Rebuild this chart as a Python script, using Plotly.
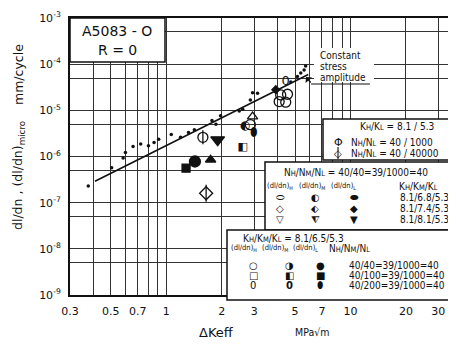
import math
import plotly.graph_objects as go

# ---------------- data ----------------
x_ticks = [0.3, 0.5, 0.7, 1, 2, 3, 5, 7, 10, 20, 30]
x_tick_labels = ["0.3", "0.5", "0.7", "1", "2", "3", "5", "7", "10", "20", "30"]
x_minor_grid = [0.4, 0.6, 0.8, 0.9, 4, 6, 8, 9]
y_ticks = [1e-9, 1e-8, 1e-7, 1e-6, 1e-5, 1e-4, 1e-3]
y_tick_labels = ["10<sup>-9</sup>", "10<sup>-8</sup>", "10<sup>-7</sup>", "10<sup>-6</sup>",
                 "10<sup>-5</sup>", "10<sup>-4</sup>", "10<sup>-3</sup>"]
y_minor_grid = [5e-9, 5e-8, 5e-7, 5e-6, 5e-5, 5e-4]

# constant stress amplitude (small dots)
cs_dk = [0.377, 0.505, 0.583, 0.60, 0.66, 0.726, 0.80, 0.858, 0.909, 1.064, 1.195, 1.32, 1.42,
         1.77, 1.86, 1.97, 2.49, 2.6, 2.86, 2.94, 3.13, 4.74, 5.15, 5.37, 5.6, 5.71]
cs_rate = [2.3e-7, 5.7e-7, 9.3e-7, 1.22e-6, 1.64e-6, 1.87e-6, 1.7e-6, 2.0e-6, 2.37e-6, 3.0e-6,
           2.6e-6, 3.3e-6, 3.8e-6, 6.0e-6, 5.0e-6, 7.6e-6, 9.7e-6, 1.06e-5, 1.68e-5, 2.4e-5,
           2.34e-5, 4.1e-5, 5.4e-5, 6.4e-5, 7.5e-5, 9.1e-5]
# fitted line
fit_dk = [0.41, 5.9]
fit_rate = [2.9e-7, 6.0e-5]

# two-step / three-step loading data
open_circle_dk = [4.1, 4.18, 4.45, 4.55, 2.86]
open_circle_rate = [1.55e-5, 2.16e-5, 1.5e-5, 2.23e-5, 4.9e-6]
half_circle_dk = [2.68]
half_circle_rate = [4.6e-6]
open_ellipse_dk = [4.45]
open_ellipse_rate = [4.2e-5]
filled_ellipse_dk = [3.0]
filled_ellipse_rate = [3.2e-6]
open_tri_dk = [2.94]
open_tri_rate = [7.3e-6]
half_square_dk = [2.6]
half_square_rate = [1.55e-6]
circ_line_dk = [1.58]
circ_line_rate = [2.6e-6]
diam_line_dk = [1.645]
diam_line_rate = [1.6e-7]
filled_square_dk = [1.28]
filled_square_rate = [5.6e-7]
filled_circle_dk = [1.43]
filled_circle_rate = [7.8e-7]
filled_tri_up_dk = [1.74]
filled_tri_up_rate = [8.5e-7]
filled_tri_dn_dk = [1.9]
filled_tri_dn_rate = [2.3e-6]
filled_diam_dk = [3.93]
filled_diam_rate = [2.8e-5]

FONT = "DejaVu Sans"
CFONT = "DejaVu Sans Condensed, DejaVu Sans"
INK = "#111111"

fig = go.Figure()

fig.add_trace(go.Scatter(x=fit_dk, y=fit_rate, mode="lines",
                         line=dict(color=INK, width=1.6), showlegend=False))
fig.add_trace(go.Scatter(x=cs_dk, y=cs_rate, mode="markers",
                         marker=dict(color=INK, size=3.5), showlegend=False))


def mk(x, y, symbol, size, lw=1.3):
    fig.add_trace(go.Scatter(x=x, y=y, mode="markers", showlegend=False,
                             marker=dict(symbol=symbol, size=size, color=INK,
                                         line=dict(color=INK, width=lw))))


def tx(x, y, glyph, size, bold=False):
    t = f"<b>{glyph}</b>" if bold else glyph
    fig.add_trace(go.Scatter(x=x, y=y, mode="text", text=[t] * len(x), showlegend=False,
                             textfont=dict(size=size, color=INK, family=FONT),
                             textposition="middle center"))


mk(open_circle_dk, open_circle_rate, "circle-open", 10)
mk(open_tri_dk, open_tri_rate, "triangle-up-open", 9)
mk(circ_line_dk, circ_line_rate, "circle-open", 10)
mk(circ_line_dk, circ_line_rate, "line-ns-open", 10)
mk(diam_line_dk, diam_line_rate, "diamond-open", 10)
mk(diam_line_dk, diam_line_rate, "line-ns-open", 12)
mk(filled_square_dk, filled_square_rate, "square", 8)
mk(filled_circle_dk, filled_circle_rate, "circle", 11)
mk(filled_tri_up_dk, filled_tri_up_rate, "triangle-up", 9)
mk(filled_tri_dn_dk, filled_tri_dn_rate, "triangle-down", 12)
mk(filled_diam_dk, filled_diam_rate, "diamond", 6)
tx(half_circle_dk, half_circle_rate, "◐", 12)
tx(half_square_dk, half_square_rate, "◧", 11)
tx(open_ellipse_dk, open_ellipse_rate, "0", 13)
tx(filled_ellipse_dk, filled_ellipse_rate, "⬮", 12)

# ---------------- layout helpers (screen pixel -> paper) ----------------
OFF = 8                       # page body margin
L, R, T, B = 70, 456, 18, 295  # plot area in screen pixels
W, H = R - L, B - T
FIG_W, FIG_H = 456 - OFF, 348 - OFF


def P(xp):
    return (xp - L) / W


def Q(yp):
    return (B - yp) / H


def sc(s):
    return f"<span style='font-size:7.5px'>{s}</span>"


anns = []


def ann(text, xp, yp, size=10, anchor="center", family=CFONT, **kw):
    anns.append(dict(text=text, x=P(xp), y=Q(yp), xref="paper", yref="paper", showarrow=False,
                     xanchor=anchor, yanchor="middle",
                     font=dict(size=size, family=family, color=INK), **kw))


shapes = []


def box(x0, y0, x1, y1, border=True):
    shapes.append(dict(type="rect", xref="paper", yref="paper", x0=P(x0), x1=P(x1),
                       y0=Q(y1), y1=Q(y0), fillcolor="white",
                       line=dict(color=INK if border else "rgba(0,0,0,0)",
                                 width=1.5 if border else 0), layer="above"))


def seg(x0, y0, x1, y1, w=1.2):
    shapes.append(dict(type="line", xref="paper", yref="paper", x0=P(x0), x1=P(x1),
                       y0=Q(y0), y1=Q(y1), line=dict(color=INK, width=w), layer="above"))


# title box
box(L, T, 165, 62)
ann("A5083 - O", 117, 31, 14, family=FONT)
ann("R = 0", 117, 50, 14, family=FONT)

# box 1
box(323, 119, 470, 160)
ann(f"K{sc('H')}/K{sc('L')} = 8.1 / 5.3", 397, 126, 10)
ann("Φ", 338, 142, 11, family=FONT)
ann(f"N{sc('H')}/N{sc('L')} = 40 / 1000", 349, 142, 10, "left")
ann("◇", 338, 153, 10, family=FONT)
seg(338, 147, 338, 159, 1.1)
ann(f"N{sc('H')}/N{sc('L')} = 40 / 40000", 349, 153, 10, "left")

# box 2
box(265, 162, 470, 230)
ann(f"N{sc('H')}/N{sc('M')}/N{sc('L')} = 40/40=39/1000=40", 282, 172, 10, "left")
ann("(dl/dn)<sub>H</sub>", 280, 186, 7.5)
ann("(dl/dn)<sub>M</sub>", 312, 186, 7.5)
ann("(dl/dn)<sub>L</sub>", 343, 186, 7.5)
ann(f"K{sc('H')}/K{sc('M')}/K{sc('L')}", 397, 186, 10, "left")
rows2 = [("⬭", "◐", "⬬", "8.1/6.8/5.3"),
         ("◇", "⬖", "◆", "8.1/7.4/5.3"),
         ("▽", "⧨", "▼", "8.1/8.1/5.3")]
for i, (a, b, c, t) in enumerate(rows2):
    yy = [197, 208, 220][i]
    ann(a, 280, yy, 10, family=FONT)
    ann(b, 315, yy, 10, family=FONT)
    ann(c, 354, yy, 10, family=FONT)
    ann(t, 398, yy, 10, "left")

# box 3
box(227, 230, 470, 300)
ann(f"K{sc('H')}/K{sc('M')}/K{sc('L')} = 8.1/6.5/5.3", 241, 238, 10, "left")
ann("(dl/dn)<sub>H</sub>", 244, 248, 7.5)
ann("(dl/dn)<sub>M</sub>", 275, 248, 7.5)
ann("(dl/dn)<sub>L</sub>", 305, 248, 7.5)
ann(f"N{sc('H')}/N{sc('M')}/N{sc('L')}", 349, 248, 10)
rows3 = [("○", "◑", "●", "40/40=39/1000=40"),
         ("□", "◧", "■", "40/100=39/1000=40"),
         ("0", "<b>0</b>", "⬮", "40/200=39/1000=40")]
for i, (a, b, c, t) in enumerate(rows3):
    yy = [265, 275, 285][i]
    ann(a, 253, yy, 10, family=FONT)
    ann(b, 289, yy, 10, family=FONT)
    ann(c, 320, yy, 10, family=FONT)
    ann(t, 347, yy, 10, "left")

# constant stress amplitude label (white backdrop hides the grid behind it)
box(314, 48, 374, 82, border=False)
for line_txt, yy in (("Constant", 55), ("stress", 66), ("amplitude", 77)):
    ann(line_txt, 318, yy, 10, "left")
seg(311, 84, 370, 84)
anns.append(dict(x=P(306), y=Q(77), xref="paper", yref="paper", ax=6, ay=7,
                 showarrow=True, arrowhead=1, arrowsize=1.2, arrowwidth=1.2,
                 arrowcolor=INK, text=""))

# axis titles
ann("ΔKeff", 216, 332, 13, family=FONT)
ann("MPa√m", 312, 332, 10.5)
ann("dl/dn , (dl/dn)<sub>micro</sub>", 18, 176, 12.5, family=FONT, textangle=-90)
ann("mm/cycle", 18, 75, 12.5, family=FONT, textangle=-90)

fig.update_layout(
    width=FIG_W, height=FIG_H,
    margin=dict(l=L - OFF, r=FIG_W - (R - OFF), t=T - OFF, b=FIG_H - (B - OFF), pad=0),
    paper_bgcolor="white", plot_bgcolor="white",
    shapes=shapes, annotations=anns,
    xaxis=dict(type="log", range=[math.log10(0.3), math.log10(37.4)],
               tickvals=x_ticks, ticktext=x_tick_labels,
               showgrid=True, gridcolor="#333", gridwidth=1.1,
               minor=dict(tickvals=x_minor_grid, showgrid=True, gridcolor="#333", gridwidth=1.1),
               showline=True, linecolor=INK, linewidth=2, mirror=True,
               ticks="outside", ticklen=5, tickcolor="rgba(0,0,0,0)",
               tickfont=dict(size=11, family=FONT, color=INK), zeroline=False),
    yaxis=dict(type="log", range=[-9, -3],
               tickvals=y_ticks, ticktext=y_tick_labels,
               showgrid=True, gridcolor="#333", gridwidth=1.1,
               minor=dict(tickvals=y_minor_grid, showgrid=True, gridcolor="#333", gridwidth=1.1),
               showline=True, linecolor=INK, linewidth=2,
               ticks="outside", ticklen=5, tickcolor="rgba(0,0,0,0)",
               tickfont=dict(size=11, family=FONT, color=INK), zeroline=False),
)

fig.write_html("out.html")
